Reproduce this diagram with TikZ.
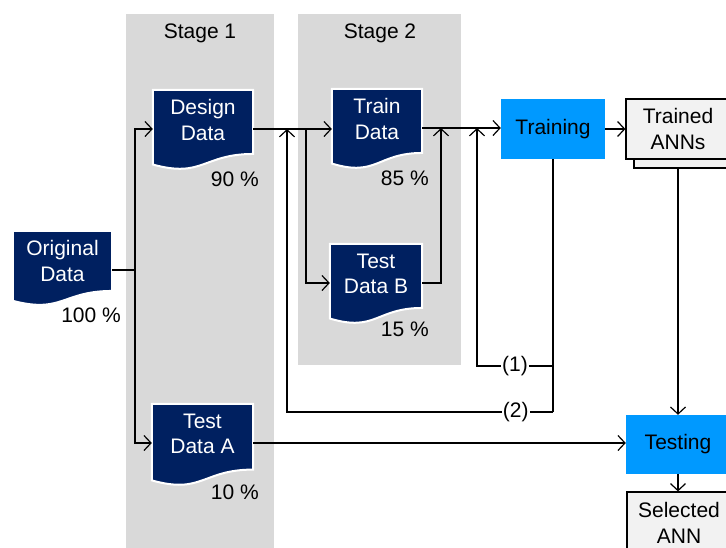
\documentclass[tikz,border=0pt]{standalone}
\usepackage{fontspec}
\setmainfont{Liberation Sans}
\usetikzlibrary{arrows.meta,calc}
\definecolor{navy}{RGB}{0,32,96}
\definecolor{bandgray}{RGB}{217,217,217}
\definecolor{procblue}{RGB}{0,153,255}
\definecolor{boxgray}{RGB}{242,242,242}
\tikzset{
  docbase/.style={inner sep=0pt, minimum height=78pt},
  docfill/.style={fill=navy, draw=white, line width=2pt},
  doctext/.style={text=white, align=center, font=\fontsize{21}{25.5}\selectfont, inner sep=0pt},
  pct/.style={anchor=east, font=\fontsize{21}{25.5}\selectfont, inner sep=0pt},
  stagelbl/.style={font=\fontsize{21}{25.5}\selectfont, inner sep=0pt},
  band/.style={fill=bandgray, draw=none},
  proc/.style={fill=procblue, draw=none, align=center, font=\fontsize{21}{25.5}\selectfont},
  outbox/.style={fill=boxgray, draw=black, line width=1.2pt, align=center, font=\fontsize{21}{25.5}\selectfont},
  conn/.style={line width=1.2pt},
  arr/.style={conn, -{Straight Barb[length=7pt,width=15pt]}},
  loopl/.style={fill=white, inner sep=1pt, font=\fontsize{21}{25.5}\selectfont},
}
\newcommand{\docnode}[6]{%
  \node[docbase, minimum width={#3-#2}] (#1) at ({(#2+#3)/2},{#4+39}) {};
  \fill[docfill] (#1.north west) -- (#1.north east) -- ++(0,{0.802*#5})
     .. controls ($(#1.north)+(0,{0.802*#5})$) and ($(#1.north)+(0,{1.107*#5})$) ..
     ($(#1.north west)+(0,{0.934*#5})$) -- cycle;
  \node[doctext] (#1-t) at ([yshift=9pt]#1.center) {#6};
}
\begin{document}
\begin{tikzpicture}[x=1pt,y=-1pt]
\clip (0,0) rectangle (726,547);
\fill[white] (0,0) rectangle (726,547);
% stage bands
\fill[band] (126,14) rectangle (274,560);
\fill[band] (298,14) rectangle (461,365);
\node[stagelbl] (s1) at (200,33) {Stage 1};
\node[stagelbl] (s2) at (380,33) {Stage 2};
% documents
\docnode{od}{13}{112}{231}{75}{Original\\Data}
\docnode{dd}{153}{253}{90}{80}{Design\\Data}
\docnode{trd}{332}{422}{89}{80}{Train\\Data}
\docnode{tdb}{330}{422}{244}{80}{Test\\Data B}
\docnode{tda}{152}{253}{404}{82}{Test\\Data A}
\node[pct] (od-p) at (121,315) {100 \%};
\node[pct] (dd-p) at (259,179) {90 \%};
\node[pct] (trd-p) at (429,178) {85 \%};
\node[pct] (tdb-p) at (429,329) {15 \%};
\node[pct] (tda-p) at (259,492) {10 \%};
% process boxes
\node[proc, minimum width=104pt, minimum height=60pt, inner sep=0pt] (trn) at (553,129) {Training};
\node[outbox, minimum width=104pt, minimum height=60pt, inner sep=0pt] (tannb) at (686,138) {};
\node[outbox, minimum width=104pt, minimum height=60pt, inner sep=0pt] (tann) at (678,129) {Trained\\ANNs};
\node[proc, minimum width=104pt, minimum height=59pt, inner sep=0pt] (test) at (678,444.5) {Testing};
\node[outbox, minimum width=104pt, minimum height=62pt, inner sep=0pt] (sel) at (679,523) {Selected\\ANN};
% helper coordinates
\coordinate (tr) at (135,0);
\coordinate (b1) at (306,0);
\coordinate (b2) at (441,0);
\coordinate (c1) at (477,366);
\coordinate (c2) at (287,412);
% connectors
\draw[arr] (od.east) -- (od.east -| tr) |- (dd.west);
\draw[arr] (od.east -| tr) |- (tda.west);
\draw[arr] (dd.east) -- (dd.east -| trd.west);
\draw[arr] (b1 |- dd.east) |- (tdb.west);
\draw[arr] (trd.east) -- (trd.east -| trn.west);
\draw[arr] (tdb.east) -| (b2 |- trd.east);
\draw[conn] (trn.south) -- (trn.south |- c2);
\draw[arr] (trn.south |- c1) -- node[loopl] (l1) {(1)} (c1) -- (c1 |- trd.east);
\draw[arr] (trn.south |- c2) -- node[loopl, pos=0.14] (l2) {(2)} (c2) -- (c2 |- dd.east);
\draw[arr] (trn.east) -- (trn.east -| tann.west);
\draw[arr] (tann.south |- tannb.south) -- (tann.south |- test.north);
\draw[arr] (tda.east) -- (tda.east -| test.west);
\draw[arr] (test.south) -- (test.south |- sel.north);
\end{tikzpicture}
\end{document}
